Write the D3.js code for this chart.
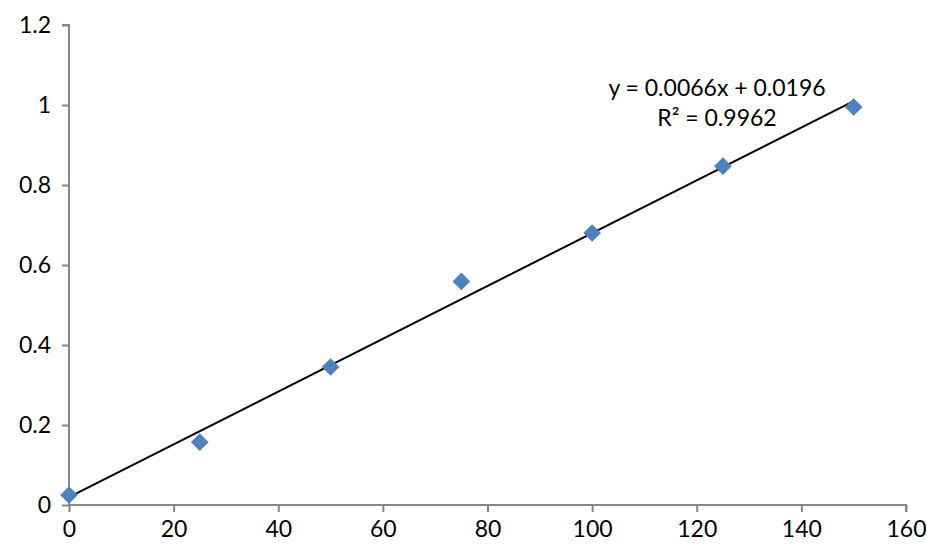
<!DOCTYPE html>
<html lang="en">
  <head>
    <meta charset="utf-8" />
    <title>Calibration</title>
    <script src="https://d3js.org/d3.v7.min.js"></script>
    <style>
      body { margin: 0; background: #fff; }
      .axis path, .axis line { stroke: #868686; stroke-width: 2; }
      .axis text { font-family: Lato, "Open Sans", sans-serif; font-size: 23px; fill: #000; }
    </style>
  </head>
  <body>
    <div id="container"></div>
    <script>
      var width = 927;
      var height = 553;

      // data
      var concentration = [0, 25, 50, 75, 100, 125, 150];
      var absorbance = [0.025, 0.157, 0.345, 0.559, 0.680, 0.847, 0.995];
      var xTicks = [0, 20, 40, 60, 80, 100, 120, 140, 160];
      var yTicks = [0, 0.2, 0.4, 0.6, 0.8, 1, 1.2];
      var slope = 0.0066;
      var intercept = 0.0196;
      var eqLines = ["y = 0.0066x + 0.0196", "R\u00b2 = 0.9962"];

      var margin = { left: 69, right: 21, top: 25, bottom: 48 };

      var svg = d3
        .select("#container")
        .append("svg")
        .attr("width", width)
        .attr("height", height);

      var x = d3.scaleLinear().domain([0, 160]).range([margin.left, width - margin.right]);
      var y = d3.scaleLinear().domain([0, 1.2]).range([height - margin.bottom, margin.top]);

      var xAxis = d3.axisBottom(x).tickValues(xTicks).tickSize(7).tickPadding(9)
        .tickFormat(function (d) { return d; });
      var yAxis = d3.axisLeft(y).tickValues(yTicks).tickSize(7).tickPadding(11)
        .tickFormat(function (d) { return d; });

      svg.append("g")
        .attr("class", "axis")
        .attr("transform", "translate(0," + y(0) + ")")
        .call(xAxis)
        .call(function (g) { g.select(".domain").attr("d", "M" + x(0) + ",0H" + x(160) + "V7"); });

      svg.append("g")
        .attr("class", "axis")
        .attr("transform", "translate(" + x(0) + ",0)")
        .call(yAxis)
        .call(function (g) { g.select(".domain").attr("d", "M-7," + y(1.2) + "H0V" + y(0)); });

      // trendline
      svg.append("line")
        .attr("x1", x(0))
        .attr("y1", y(intercept))
        .attr("x2", x(150))
        .attr("y2", y(slope * 150 + intercept))
        .style("stroke", "#000")
        .style("stroke-width", 2);

      // markers
      svg.selectAll("path.pt")
        .data(concentration)
        .enter()
        .append("path")
        .attr("class", "pt")
        .attr("d", d3.symbol().type(d3.symbolDiamond2).size(200))
        .attr("transform", function (d, i) {
          return "translate(" + x(d) + "," + y(absorbance[i]) + ")";
        })
        .style("fill", "#4F81BD");

      svg.selectAll("text.eq")
        .data(eqLines)
        .enter()
        .append("text")
        .attr("class", "eq")
        .attr("x", 717)
        .attr("y", function (d, i) { return 96 + i * 30; })
        .attr("text-anchor", "middle")
        .style("font-family", "Lato, 'Open Sans', sans-serif")
        .style("font-size", "23px")
        .text(function (d) { return d; });
    </script>
  </body>
</html>
